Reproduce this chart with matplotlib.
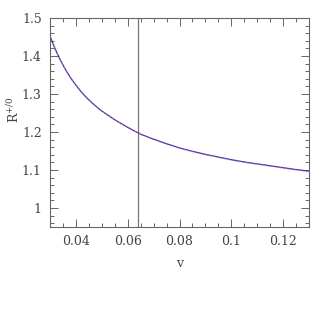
import matplotlib as mpl
mpl.rcParams['figure.dpi'] = 100
mpl.rcParams['font.family'] = ['DejaVu Serif']
mpl.rcParams['mathtext.fontset'] = 'dejavuserif'

import matplotlib.pyplot as plt
from matplotlib.ticker import MultipleLocator

# valores
v = [0.030, 0.032, 0.034, 0.036, 0.038, 0.040, 0.042, 0.044, 0.046, 0.048,
     0.050, 0.055, 0.060, 0.065, 0.070, 0.075, 0.080, 0.085, 0.090, 0.095,
     0.100, 0.105, 0.110, 0.115, 0.120, 0.125, 0.130]
r_a = [1.452, 1.418, 1.389, 1.364, 1.342, 1.323, 1.306, 1.291, 1.278, 1.266,
       1.255, 1.232, 1.212, 1.194, 1.181, 1.169, 1.158, 1.149, 1.141, 1.134,
       1.127, 1.121, 1.116, 1.111, 1.106, 1.101, 1.097]
r_b = [1.452, 1.418, 1.389, 1.364, 1.342, 1.323, 1.306, 1.291, 1.278, 1.266,
       1.255, 1.232, 1.212, 1.194, 1.180, 1.168, 1.157, 1.148, 1.140, 1.133,
       1.126, 1.120, 1.115, 1.110, 1.105, 1.100, 1.095]
v_linea = 0.064

fig = plt.figure(figsize=(3.27, 3.27))
ax = fig.add_axes([0.153, 0.306, 0.792, 0.639])

ax.axvline(v_linea, color='#777777', lw=0.9)
ax.plot(v, r_a, color='#3333cc', lw=0.9)
ax.plot(v, r_b, color='#e06060', lw=0.9, ls=(0, (1, 2)))

ax.set_xlim(0.03, 0.13)
ax.set_ylim(0.95, 1.5)
ax.xaxis.set_minor_locator(MultipleLocator(0.005))
ax.yaxis.set_minor_locator(MultipleLocator(0.02))
ax.set_xticks([0.04, 0.06, 0.08, 0.1, 0.12])
ax.set_xticklabels(['0.04', '0.06', '0.08', '0.1', '0.12'])
ax.set_yticks([1, 1.1, 1.2, 1.3, 1.4, 1.5])
ax.set_yticklabels(['1', '1.1', '1.2', '1.3', '1.4', '1.5'])
ax.tick_params(which='both', direction='in', top=True, right=True,
               color='#666666', labelsize=9, labelcolor='#444444')
ax.tick_params(which='major', length=6, width=0.7, pad=6)
ax.tick_params(which='minor', length=3, width=0.7)
for s in ax.spines.values():
    s.set_color('#666666')
    s.set_linewidth(0.8)

ax.set_xlabel('v', fontsize=9, color='#444444', labelpad=6)
ax.set_ylabel(r'R$^{+/0}$', fontsize=9, color='#444444')
ax.yaxis.set_label_coords(-0.11, 0.56)

plt.savefig('out.png')
